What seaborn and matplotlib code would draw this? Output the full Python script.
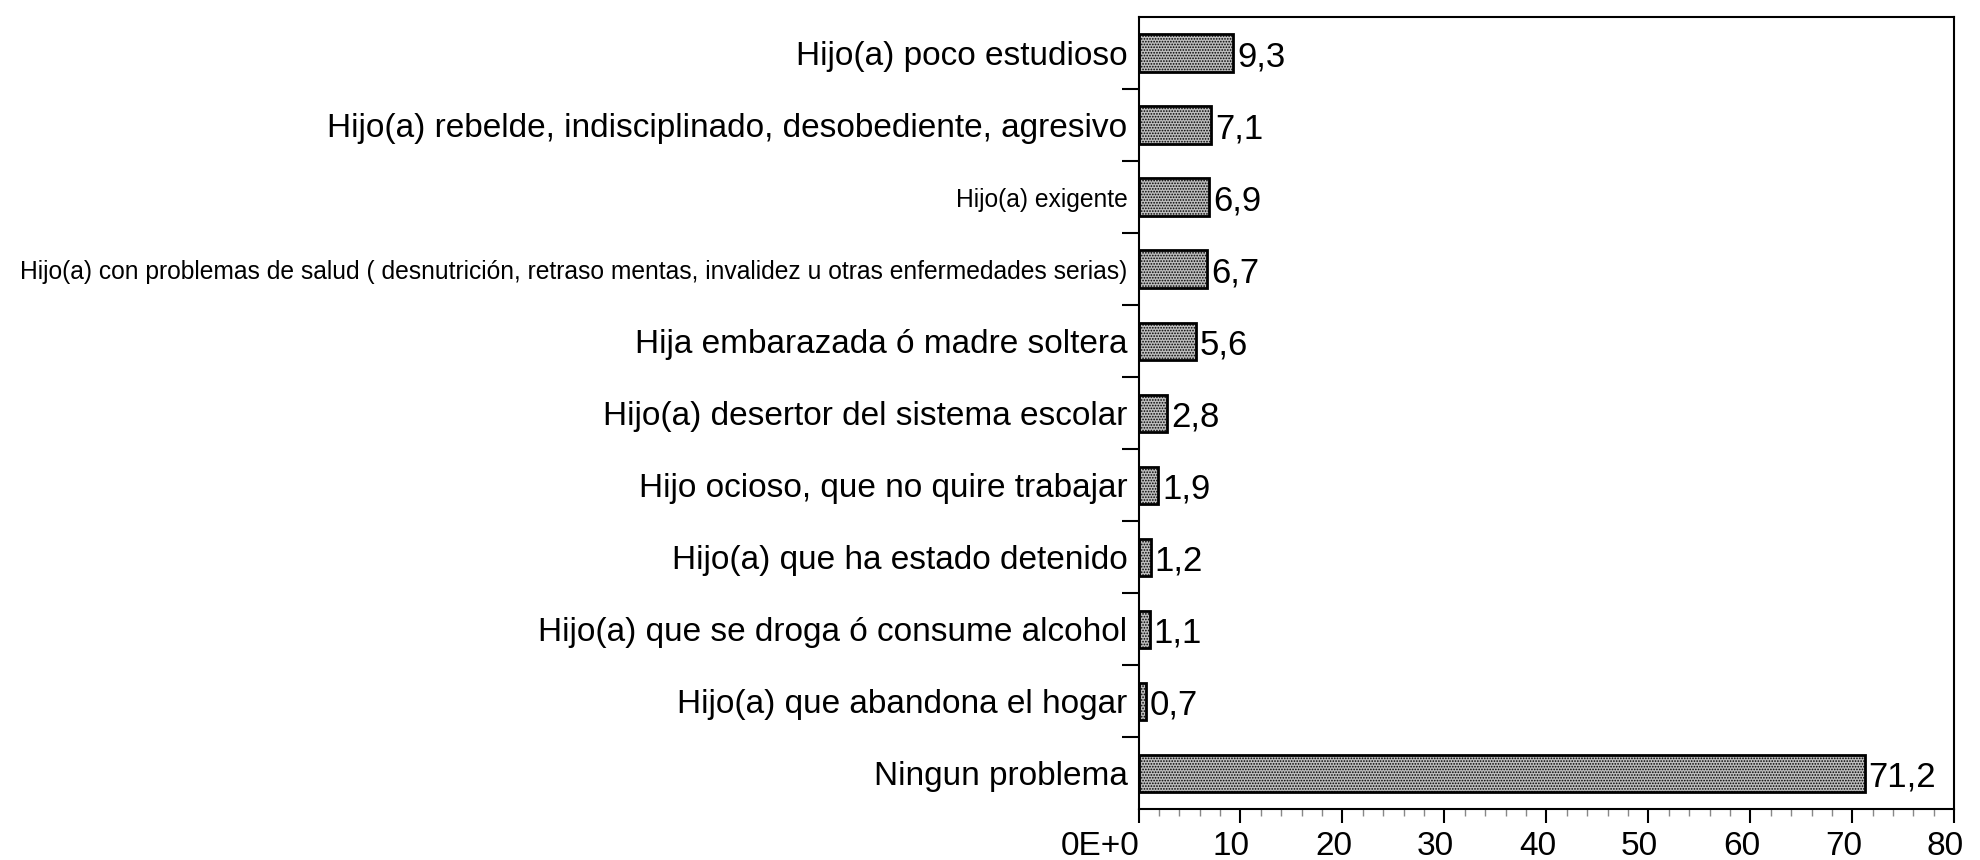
import numpy as np
import pandas as pd
import matplotlib
matplotlib.use("Agg")
import matplotlib.pyplot as plt
import matplotlib.transforms as mtransforms
from matplotlib.ticker import MultipleLocator, FixedLocator
import seaborn as sns

# data (top to bottom)
categories = [
    "Hijo(a) poco estudioso",
    "Hijo(a) rebelde, indisciplinado, desobediente, agresivo",
    "Hijo(a) exigente",
    "Hijo(a) con problemas de salud ( desnutrición, retraso mentas, invalidez u otras enfermedades serias)",
    "Hija embarazada ó madre soltera",
    "Hijo(a) desertor del sistema escolar",
    "Hijo ocioso, que no quire trabajar",
    "Hijo(a) que ha estado detenido",
    "Hijo(a) que se droga ó consume alcohol",
    "Hijo(a) que abandona el hogar",
    "Ningun problema",
]
values = [9.3, 7.1, 6.9, 6.7, 5.6, 2.8, 1.9, 1.2, 1.1, 0.7, 71.2]
x_ticks = [0, 10, 20, 30, 40, 50, 60, 70, 80]
x_tick_labels = ["0E+0", "10", "20", "30", "40", "50", "60", "70", "80"]
small_labels = ["Hijo(a) exigente", categories[3]]

df = pd.DataFrame({"cat": categories, "val": values})

sns.set_style("white")
plt.rcParams["font.family"] = ["Liberation Sans", "DejaVu Sans"]
plt.rcParams["text.color"] = "black"
plt.rcParams["xtick.color"] = "black"
plt.rcParams["ytick.color"] = "black"
plt.rcParams["hatch.color"] = "#555555"
plt.rcParams["hatch.linewidth"] = 0.8

fig = plt.figure(figsize=(19.8, 8.6), dpi=100)
ax = fig.add_axes([0.575, 0.059, 0.412, 0.921])

sns.barplot(data=df, x="val", y="cat", orient="h", color="#bdbdbd",
            width=0.52, ax=ax, edgecolor="black", linewidth=2)

for p in ax.patches:
    p.set_hatch("......")

ax.set_xlim(0, 80)
ax.set_ylim(len(categories) - 0.5, -0.5)
ax.set_xlabel("")
ax.set_ylabel("")

# x axis
ax.xaxis.set_major_locator(FixedLocator(x_ticks))
ax.set_xticklabels(x_tick_labels, fontsize=24)
ax.xaxis.set_minor_locator(MultipleLocator(2))
ax.tick_params(axis="x", which="major", direction="out", length=10, width=1.5, bottom=True, pad=6)
ax.tick_params(axis="x", which="minor", direction="out", length=5, width=1, bottom=True, color="#888888")
shift = mtransforms.ScaledTranslation(-9 / 100, 0, fig.dpi_scale_trans)
for k, lab in enumerate(ax.get_xticklabels()):
    lab.set_transform(lab.get_transform() + shift)
    if k == 0:
        lab.set_ha("right")
        lab.set_transform(lab.get_transform() + mtransforms.ScaledTranslation(10 / 100, 0, fig.dpi_scale_trans))

# y axis: labels at bars, tick marks between categories
ax.tick_params(axis="y", which="major", length=0, pad=8)
ax.yaxis.set_minor_locator(FixedLocator(np.arange(0.5, len(categories) - 1, 1.0)))
ax.tick_params(axis="y", which="minor", direction="out", length=12, width=1.5, left=True)
for lab in ax.get_yticklabels():
    lab.set_color("black")
    if lab.get_text() in small_labels:
        lab.set_fontsize(17.7)
    else:
        lab.set_fontsize(24)

for side in ["left", "right", "top", "bottom"]:
    ax.spines[side].set_visible(True)
    ax.spines[side].set_color("black")
    ax.spines[side].set_linewidth(1.5)

for i, v in enumerate(values):
    ax.text(v + 0.4, i + 0.05, f"{v:.1f}".replace(".", ","), va="center", ha="left", fontsize=25)

fig.savefig("out.png", dpi=100, facecolor="white")
